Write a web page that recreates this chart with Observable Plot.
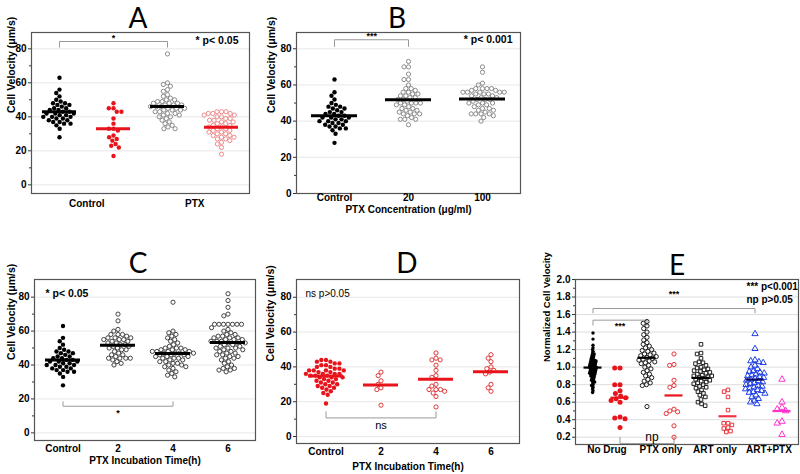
<!DOCTYPE html>
<html><head><meta charset="utf-8">
<script src="https://cdn.jsdelivr.net/npm/d3@7"></script>
<script src="https://cdn.jsdelivr.net/npm/@observablehq/plot@0.6"></script>
<style>
html,body{margin:0;padding:0;background:#fff;}
#root{position:relative;width:800px;height:474px;overflow:hidden;background:#fff;}
.layer{position:absolute;}
.layer svg{display:block;}
.ttl{position:absolute;font-family:Lato,'Open Sans',sans-serif;font-size:28px;line-height:26px;height:26px;transform:translate(-50%,-50%);color:#000;}
</style></head><body><div id="root"></div>
<script>
// ---------------- DATA ----------------
const yTicks = [0, 20, 40, 60, 80];
const yMinor = [10, 30, 50, 70];
const eTicks = [0.2, 0.4, 0.6, 0.8, 1.0, 1.2, 1.4, 1.6, 1.8, 2.0];
const eMinor = [0.3, 0.5, 0.7, 0.9, 1.1, 1.3, 1.5, 1.7, 1.9];

// Panel A
const A_labels = ["Control", "PTX"];
const A_control_black = [63, 56, 54, 52, 50, 49, 48, 48, 47, 47, 46, 45, 45, 44, 44, 43, 43, 42, 42, 42, 41, 41, 40, 40, 40, 39, 39, 38, 38, 37, 37, 36, 36, 35, 33, 28];
const A_control_red = [48, 45, 45, 43, 43, 39, 36, 33, 33, 32, 29, 28, 27, 26, 24, 23, 22, 17];
const A_ptx_black = [77, 60, 59, 58, 56, 55, 53, 52, 51, 50, 50, 49, 49, 48, 48, 48, 47, 47, 47, 46, 46, 46, 45, 45, 45, 44, 44, 44, 43, 43, 42, 42, 41, 41, 40, 40, 39, 38, 37, 36, 35, 34, 33, 33];
const A_ptx_red = [43, 43, 43, 42, 42, 42, 41, 41, 40, 40, 39, 39, 38, 38, 37, 37, 36, 36, 35, 35, 34, 34, 33, 33, 32, 32, 31, 31, 30, 30, 29, 29, 28, 28, 27, 27, 26, 25, 24, 22, 18];

// Panel B
const B_labels = ["Control", "20", "100"];
const B_control = A_control_black;
const B_20 = [73, 70, 70, 66, 63, 63, 60, 58, 58, 57, 56, 56, 55, 55, 54, 54, 53, 53, 52, 52, 51, 50, 50, 50, 50, 49, 49, 48, 47, 47, 46, 46, 45, 45, 44, 44, 44, 43, 42, 41, 41, 41, 38];
const B_100 = [70, 67, 61, 60, 58, 58, 58, 58, 57, 57, 56, 56, 56, 56, 56, 55, 55, 55, 54, 54, 53, 53, 52, 52, 52, 51, 50, 50, 50, 49, 49, 48, 47, 47, 46, 46, 45, 44, 44, 44, 44, 43, 42, 40];

// Panel C
const C_labels = ["Control", "2", "4", "6"];
const C_control = A_control_black;
const C_2h = [70, 66, 61, 60, 58, 58, 58, 57, 56, 56, 56, 55, 55, 55, 54, 54, 53, 53, 52, 52, 51, 51, 50, 50, 49, 49, 48, 47, 46, 46, 45, 44, 44, 44, 44, 43, 42, 41, 40];
const C_4h = [77, 60, 59, 58, 57, 56, 55, 54, 53, 52, 51, 50, 50, 50, 49, 49, 49, 48, 48, 48, 48, 47, 47, 47, 47, 46, 46, 46, 45, 45, 45, 44, 44, 44, 43, 43, 42, 42, 41, 41, 40, 40, 39, 39, 38, 37, 36, 35, 34, 33];
const C_6h = [82, 78, 74, 70, 69, 64, 64, 64, 64, 64, 64, 64, 62, 61, 60, 59, 58, 58, 57, 57, 56, 56, 56, 55, 55, 55, 54, 54, 54, 53, 53, 53, 52, 52, 51, 51, 50, 50, 50, 49, 49, 48, 48, 47, 47, 46, 46, 45, 45, 44, 44, 43, 42, 41, 40, 39, 38, 38, 37, 37, 36];

// Panel D
const D_labels = ["Control", "2", "4", "6"];
const D_control = [44, 44, 43, 38, 36, 43, 42, 42, 41, 41, 40, 40, 39, 39, 38, 38, 38, 37, 37, 36, 36, 36, 35, 35, 35, 34, 34, 34, 33, 33, 32, 32, 31, 31, 30, 30, 29, 29, 28, 28, 27, 26, 25, 24, 19];
const D_2h = [37, 35, 32, 30, 28, 27, 18];
const D_4h = [48, 45, 44, 44, 41, 38, 35, 34, 30, 29, 27, 27, 27, 26, 25, 23, 17];
const D_6h = [47, 45, 43, 40, 39, 38, 37, 36, 30, 28, 26];

// Panel E
const E_labels = ["No Drug", "PTX only", "ART only", "ART+PTX"];
const E_noDrug_black = [1.39, 1.32, 1.25, 1.22, 1.2, 1.18, 1.16, 1.15, 1.14, 1.13, 1.12, 1.11, 1.1, 1.09, 1.08, 1.08, 1.07, 1.07, 1.06, 1.06, 1.05, 1.05, 1.04, 1.04, 1.03, 1.03, 1.02, 1.02, 1.01, 1.01, 1.0, 1.0, 1.0, 0.99, 0.99, 0.98, 0.98, 0.97, 0.97, 0.96, 0.96, 0.95, 0.95, 0.94, 0.94, 0.93, 0.93, 0.92, 0.92, 0.91, 0.9, 0.9, 0.89, 0.88, 0.87, 0.86, 0.85, 0.84, 0.83, 0.82, 0.8, 0.79, 0.77, 0.75, 0.73, 0.71];
const E_noDrug_red = [0.99, 0.99, 0.8, 0.8, 0.73, 0.7, 0.67, 0.65, 0.64, 0.62, 0.6, 0.43, 0.42, 0.41, 0.31];
const E_ptx_black = [1.52, 1.5, 1.47, 1.44, 1.4, 1.37, 1.34, 1.31, 1.28, 1.26, 1.24, 1.22, 1.2, 1.19, 1.18, 1.16, 1.15, 1.14, 1.13, 1.12, 1.11, 1.1, 1.09, 1.08, 1.07, 1.06, 1.05, 1.04, 1.02, 1.0, 0.98, 0.96, 0.94, 0.92, 0.9, 0.88, 0.86, 0.84, 0.82, 0.8, 0.79, 0.55];
const E_ptx_red = [1.15, 1.03, 1.02, 0.85, 0.79, 0.77, 0.52, 0.5, 0.49, 0.47, 0.33, 0.2];
const E_art_black = [1.26, 1.16, 1.15, 1.1, 1.06, 1.05, 1.04, 1.02, 1.0, 0.99, 0.98, 0.97, 0.96, 0.95, 0.94, 0.93, 0.92, 0.91, 0.9, 0.9, 0.89, 0.88, 0.87, 0.86, 0.85, 0.84, 0.83, 0.82, 0.81, 0.8, 0.78, 0.77, 0.76, 0.74, 0.72, 0.7, 0.68, 0.66, 0.63, 0.6, 0.58, 0.56];
const E_art_red = [0.74, 0.72, 0.66, 0.51, 0.36, 0.36, 0.34, 0.31, 0.3, 0.27, 0.26];
const E_artptx_blue = [1.38, 1.21, 1.08, 1.07, 1.06, 1.05, 1.02, 1.0, 0.98, 0.96, 0.95, 0.94, 0.93, 0.92, 0.91, 0.9, 0.89, 0.88, 0.87, 0.86, 0.85, 0.84, 0.83, 0.82, 0.81, 0.8, 0.79, 0.78, 0.77, 0.76, 0.75, 0.74, 0.73, 0.72, 0.71, 0.7, 0.68, 0.66, 0.64, 0.62, 0.6, 0.58];
const E_artptx_pink = [0.86, 0.6, 0.54, 0.52, 0.5, 0.38, 0.36, 0.23];

// ---------------- RENDER ----------------
const FN = "'Liberation Sans',Arial,sans-serif";
const FR = "'Liberation Sans',Arial,sans-serif";
const RED = "#e8141c";
const root = document.getElementById("root");

function title(t, x, y) {
  const d = document.createElement("div");
  d.className = "ttl"; d.textContent = t;
  d.style.left = x + "px"; d.style.top = y + "px";
  root.appendChild(d);
}

function panel(c) {
  const keys = c.groups.map(g => g.key);
  const band = (c.width - c.m.l - c.m.r) / keys.length;
  const common = {width: c.width, height: c.height, marginTop: c.m.t, marginRight: c.m.r, marginBottom: c.m.b, marginLeft: c.m.l};
  const fs = c.fontSize;
  const marks = [
    Plot.gridY(c.ticks, {stroke: c.grid, strokeOpacity: 1, strokeWidth: 0.8}),
    Plot.axisY(c.ticks, {tickSize: 3, tickPadding: 2, tickFormat: c.tickFmt, fontFamily: FN, fontSize: fs, fontWeight: "bold", stroke: "#333", label: null}),
    Plot.axisY(c.minor, {tickSize: 2, tickFormat: () => "", stroke: "#333", label: null}),
    Plot.frame({stroke: "#555", strokeWidth: 1.2}),
    Plot.text(c.xlabels, {x: "k", text: "t", frameAnchor: "bottom", dy: c.xDy, dx: c.xPairs ? band / 2 : 0, fontFamily: FN, fontSize: fs, fontWeight: "bold"}),
    Plot.text([c.yTitle], {frameAnchor: "left", rotate: -90, dx: c.yTitleDx, text: d => d, fontFamily: FN, fontSize: c.yTitleSize, fontWeight: "bold"})
  ];
  if (c.xTitle) marks.push(Plot.text([c.xTitle], {frameAnchor: "bottom", dy: c.xTitleDy, text: d => d, fontFamily: FN, fontSize: fs, fontWeight: "bold"}));
  for (const b of c.brackets) {
    marks.push(Plot.line([{k: b.from, v: b.leg}, {k: b.from, v: b.bar}, {k: b.to, v: b.bar}, {k: b.to, v: b.leg}], {x: "k", y: "v", stroke: "#999", strokeWidth: 1}));
    marks.push(Plot.text([{k: b.at, v: b.ty, t: b.mark}], {x: "k", y: "v", text: "t", dx: (b.half ? band / 2 : 0) + (b.dx || 0), fontFamily: FR, fontSize: b.size || 9, fontWeight: b.weight || "bold"}));
  }
  for (const n of c.notes) {
    marks.push(Plot.text([n.t], {text: d => d, frameAnchor: n.anchor, textAnchor: n.textAnchor, lineAnchor: "middle", dx: n.dx, dy: n.dy, fontFamily: n.font || FN, fontSize: n.size, fontWeight: n.weight || "bold"}));
  }
  const back = Plot.plot({
    ...common,
    style: {background: "white", fontFamily: FN, fontSize: fs + "px", color: "#000", overflow: "visible"},
    x: {type: "band", domain: keys, padding: 0, axis: null},
    y: {domain: c.yDomain, axis: null},
    marks
  });
  const front = Plot.plot({
    ...common,
    style: {background: "transparent", overflow: "visible"},
    fx: {domain: keys, padding: 0, axis: null},
    y: {domain: c.yDomain, axis: null},
    marks: [
      ...c.groups.map(g => Plot.dot(g.values.map(v => ({k: g.key, v})), Plot.dodgeX({anchor: "middle", padding: g.pad ?? 0.3, fx: "k", y: "v", r: g.r, symbol: g.symbol || "circle", fill: g.fill, stroke: g.stroke || "none", strokeWidth: g.sw ?? 1}))),
      ...c.groups.map(g => Plot.ruleY([{k: g.key, v: d3.mean(g.values)}], {fx: "k", y: "v", stroke: g.mean, strokeWidth: c.meanWidth, insetLeft: c.meanInset, insetRight: c.meanInset}))
    ]
  });
  for (const svg of [back, front]) {
    const d = document.createElement("div");
    d.className = "layer";
    d.style.left = c.left + "px"; d.style.top = c.top + "px";
    d.style.width = c.width + "px"; d.style.height = c.height + "px";
    d.appendChild(svg);
    root.appendChild(d);
  }
}

// Panel A
panel({
  left: 0, top: 20, width: 262, height: 200, m: {t: 12, r: 13, b: 27, l: 31},
  yDomain: [-5.1, 89.6], ticks: yTicks, minor: yMinor, tickFmt: d3.format("d"), fontSize: 10, grid: "#e2e2e2",
  groups: [
    {key: "A0", values: A_control_black, r: 2.2, fill: "#000", mean: "#000"},
    {key: "A1", values: A_control_red, r: 2.2, fill: RED, mean: RED},
    {key: "A2", values: A_ptx_black, r: 2.1, fill: "none", stroke: "#8c8c8c", mean: "#000"},
    {key: "A3", values: A_ptx_red, r: 2.1, fill: "none", stroke: "#f08a8a", mean: RED}
  ],
  xlabels: [{k: "A0", t: A_labels[0]}, {k: "A2", t: A_labels[1]}], xPairs: true, xDy: 13,
  yTitle: "Cell Velocity (μm/s)", yTitleDx: -20, yTitleSize: 10.5,
  meanInset: 10, meanWidth: 3,
  notes: [{t: "* p< 0.05", anchor: "top-right", textAnchor: "end", dx: -11, dy: 8, size: 10.5}],
  brackets: [{from: "A0", to: "A2", bar: 84.3, leg: 81, at: "A1", ty: 86.5, mark: "*"}]
});

// Panel B
panel({
  left: 262, top: 20, width: 270, height: 200, m: {t: 12, r: 12, b: 27, l: 34},
  yDomain: [0, 89], ticks: yTicks, minor: yMinor, tickFmt: d3.format("d"), fontSize: 10, grid: "#e2e2e2",
  groups: [
    {key: "B0", values: B_control, r: 2.2, fill: "#000", mean: "#000"},
    {key: "B1", values: B_20, r: 2.1, fill: "none", stroke: "#8c8c8c", mean: "#000"},
    {key: "B2", values: B_100, r: 2.1, fill: "none", stroke: "#8c8c8c", mean: "#000"}
  ],
  xlabels: B_labels.map((t, i) => ({k: "B" + i, t})), xPairs: false, xDy: 7,
  xTitle: "PTX Concentration (μg/ml)", xTitleDy: 19,
  yTitle: "Cell Velocity (μm/s)", yTitleDx: -25, yTitleSize: 10.5,
  meanInset: 14, meanWidth: 3,
  notes: [{t: "* p< 0.001", anchor: "top-right", textAnchor: "end", dx: -8, dy: 7, size: 10.5}],
  brackets: [{from: "B0", to: "B1", bar: 85, leg: 81.3, at: "B0", half: true, ty: 87, mark: "***"}]
});

// Panel C
panel({
  left: 0, top: 265, width: 262, height: 209, m: {t: 14, r: 7, b: 34, l: 34},
  yDomain: [-4.5, 90.4], ticks: yTicks, minor: yMinor, tickFmt: d3.format("d"), fontSize: 10, grid: "#e2e2e2",
  groups: [
    {key: "C0", values: C_control, r: 2.2, fill: "#000", mean: "#000"},
    {key: "C1", values: C_2h, r: 2.1, fill: "none", stroke: "#444", mean: "#000"},
    {key: "C2", values: C_4h, r: 2.1, fill: "none", stroke: "#444", mean: "#000"},
    {key: "C3", values: C_6h, r: 2.1, fill: "none", stroke: "#444", mean: "#000"}
  ],
  xlabels: C_labels.map((t, i) => ({k: "C" + i, t})), xPairs: false, xDy: 11,
  xTitle: "PTX Incubation Time(h)", xTitleDy: 23,
  yTitle: "Cell Velocity (μm/s)", yTitleDx: -23, yTitleSize: 10.5,
  meanInset: 10, meanWidth: 3,
  notes: [{t: "* p< 0.05", anchor: "top-left", textAnchor: "start", dx: 11, dy: 14, size: 10.5}],
  brackets: [{from: "C0", to: "C2", bar: 15.7, leg: 18.3, at: "C1", ty: 11.5, mark: "*"}]
});

// Panel D
panel({
  left: 262, top: 265, width: 270, height: 209, m: {t: 14, r: 13, b: 31, l: 34},
  yDomain: [-4, 90.2], ticks: yTicks, minor: yMinor, tickFmt: d3.format("d"), fontSize: 10, grid: "#e2e2e2",
  groups: [
    {key: "D0", values: D_control, r: 2.2, fill: RED, mean: RED},
    {key: "D1", values: D_2h, r: 2.1, fill: "none", stroke: "#e03a3a", mean: RED},
    {key: "D2", values: D_4h, r: 2.1, fill: "none", stroke: "#e03a3a", mean: RED},
    {key: "D3", values: D_6h, r: 2.1, fill: "none", stroke: "#e03a3a", mean: RED}
  ],
  xlabels: D_labels.map((t, i) => ({k: "D" + i, t})), xPairs: false, xDy: 11,
  xTitle: "PTX Incubation Time(h)", xTitleDy: 26,
  yTitle: "Cell Velocity (μm/s)", yTitleDx: -25.5, yTitleSize: 10.5,
  meanInset: 10, meanWidth: 3,
  notes: [{t: "ns p>0.05", anchor: "top-left", textAnchor: "start", dx: 9, dy: 14, size: 10, weight: "normal", font: FR}],
  brackets: [{from: "D0", to: "D2", bar: 10.7, leg: 14.2, at: "D1", ty: 6.5, mark: "ns", size: 11, weight: "normal"}]
});

// Panel E
panel({
  left: 532, top: 265, width: 268, height: 209, m: {t: 14, r: 2, b: 30, l: 43},
  yDomain: [0.117, 2.0], ticks: eTicks, minor: eMinor, tickFmt: d3.format(".1f"), fontSize: 10, grid: "#d4d4d4",
  groups: [
    {key: "E0", values: E_noDrug_black, r: 1.7, pad: -1.6, fill: "#000", mean: "#000"},
    {key: "E1", values: E_noDrug_red, r: 2.5, fill: RED, mean: RED},
    {key: "E2", values: E_ptx_black, r: 2.1, pad: 0, fill: "none", stroke: "#222", mean: "#000"},
    {key: "E3", values: E_ptx_red, r: 2.1, fill: "none", stroke: "#e8333a", mean: RED},
    {key: "E4", values: E_art_black, r: 2.0, pad: 0, symbol: "square", fill: "none", stroke: "#222", mean: "#000"},
    {key: "E5", values: E_art_red, r: 2.0, symbol: "square", fill: "none", stroke: "#e8333a", mean: "#ee3344"},
    {key: "E6", values: E_artptx_blue, r: 2.3, pad: -0.3, symbol: "triangle", fill: "none", stroke: "#1f3fe6", mean: "#0b0b5e"},
    {key: "E7", values: E_artptx_pink, r: 2.4, symbol: "triangle", fill: "none", stroke: "#ff33cc", mean: "#ff33cc"}
  ],
  xlabels: [0, 1, 2, 3].map(i => ({k: "E" + (2 * i), t: E_labels[i]})), xPairs: true, xDy: 8,
  yTitle: "Normalized Cell Velocity", yTitleDx: -29, yTitleSize: 9.5,
  meanInset: 4.5, meanWidth: 2.2,
  notes: [
    {t: "*** p<0.001", anchor: "top-right", textAnchor: "start", dx: -52, dy: 7, size: 10},
    {t: "np p>0.05", anchor: "top-right", textAnchor: "start", dx: -52, dy: 20.5, size: 10}
  ],
  brackets: [
    {from: "E0", to: "E6", bar: 1.669, leg: 1.62, at: "E3", ty: 1.83, mark: "***"},
    {from: "E0", to: "E2", bar: 1.536, leg: 1.48, at: "E1", ty: 1.47, mark: "***"},
    {from: "E1", to: "E3", bar: 0.128, leg: 0.2, at: "E2", dx: 5, ty: 0.2, mark: "np", size: 12, weight: "normal"}
  ]
});

title("A", 138, 17);
title("B", 397, 17);
title("C", 138, 262);
title("D", 407, 262);
title("E", 677, 264);
</script></body></html>
